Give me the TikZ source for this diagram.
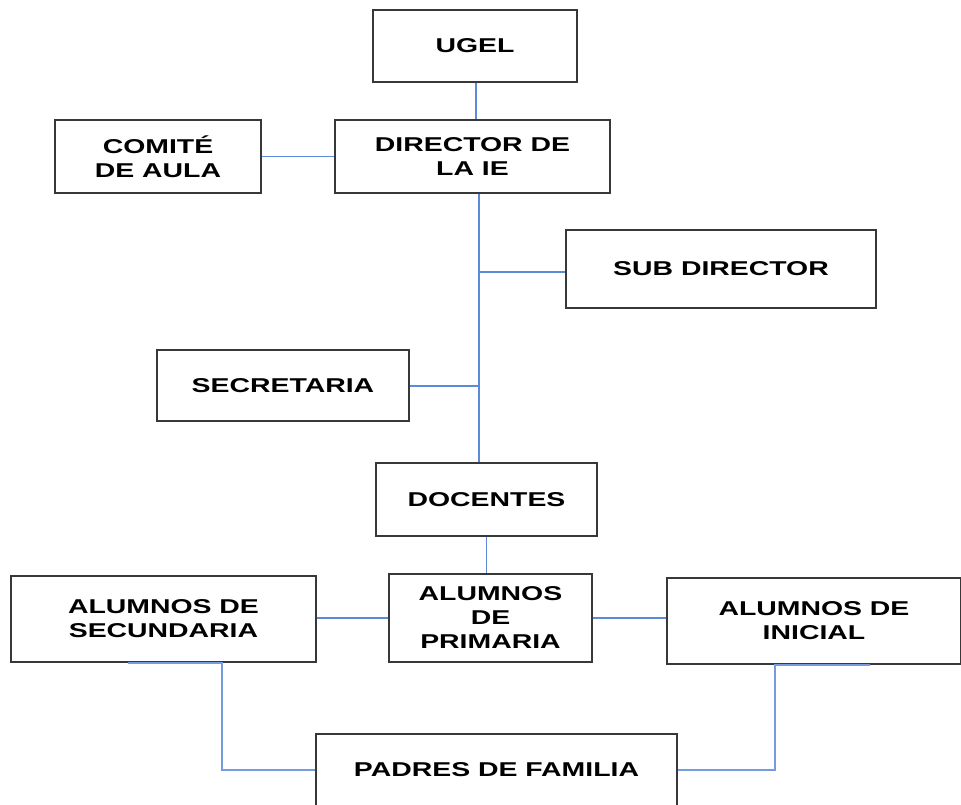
\documentclass[tikz,border=0pt]{standalone}
\usepackage{fontspec}
\setmainfont[FakeStretch=1.42]{Liberation Sans}
\definecolor{linkblue}{HTML}{5B8AD8}
\tikzstyle{unit}=[rectangle, draw=black!78, line width=1.8pt, fill=white, inner sep=0pt, align=center, font=\fontsize{20}{24}\selectfont\bfseries]
\tikzstyle{link}=[draw=linkblue, line width=1.4pt]

\begin{document}
\begin{tikzpicture}[x=1pt, y=-1pt]
    \useasboundingbox (0,0) rectangle (961,805);
    % boxes
    \node[unit, minimum width=204pt, minimum height=72pt] (ugel) at (475, 46) {UGEL};
    \node[unit, minimum width=206pt, minimum height=73pt] (comite) at (158, 156.5) {COMITÉ\\DE AULA};
    \node[unit, minimum width=275pt, minimum height=73pt] (director) at (472.5, 156.5) {DIRECTOR DE\\LA IE};
    \node[unit, minimum width=310pt, minimum height=78pt] (subdir) at (721, 269) {SUB DIRECTOR};
    \node[unit, minimum width=252pt, minimum height=71pt] (secre) at (283, 385.5) {SECRETARIA};
    \node[unit, minimum width=221pt, minimum height=73pt] (docentes) at (486.5, 499.5) {DOCENTES};
    \node[unit, minimum width=203pt, minimum height=88pt] (primaria) at (490.5, 618) {ALUMNOS\\DE\\PRIMARIA};
    \node[unit, minimum width=305pt, minimum height=86pt] (secundaria) at (163.5, 619) {ALUMNOS DE\\SECUNDARIA};
    \node[unit, minimum width=294pt, minimum height=86pt] (inicial) at (814, 621) {ALUMNOS DE\\INICIAL};
    \node[unit, minimum width=361pt, minimum height=72pt] (padres) at (496.5, 770) {PADRES DE FAMILIA};
    % junctions on the main line
    \coordinate (j1) at (479, 272);
    \coordinate (j2) at (479, 386);
    \coordinate (secfrom) at (128, 0);
    \coordinate (secfoot) at (222, 0);
    \coordinate (inifrom) at (870, 0);
    \coordinate (inifoot) at (775, 0);
    % links
    \draw[link] (ugel.south -| 476,0) -- (director.north -| 476,0);
    \draw[link] (comite.east) -- (director.west);
    \draw[link] (director.south -| j1) -- (docentes.north -| j1);
    \draw[link] (j1) -- (subdir.west |- j1);
    \draw[link] (j2) -- (secre.east |- j2);
    \draw[link] (docentes.south) -- (docentes.south |- primaria.north);
    \draw[link] (secundaria.east |- primaria) -- (primaria.west);
    \draw[link] (primaria.east) -- (inicial.west |- primaria);
    \draw[link, line width=1.8pt, draw=linkblue!85] (secundaria.south -| secfrom) -- (secundaria.south -| secfoot) |- (padres.west);
    \draw[link, line width=1.8pt, draw=linkblue!85] (inicial.south -| inifrom) -- (inicial.south -| inifoot) |- (padres.east);
\end{tikzpicture}
\end{document}
